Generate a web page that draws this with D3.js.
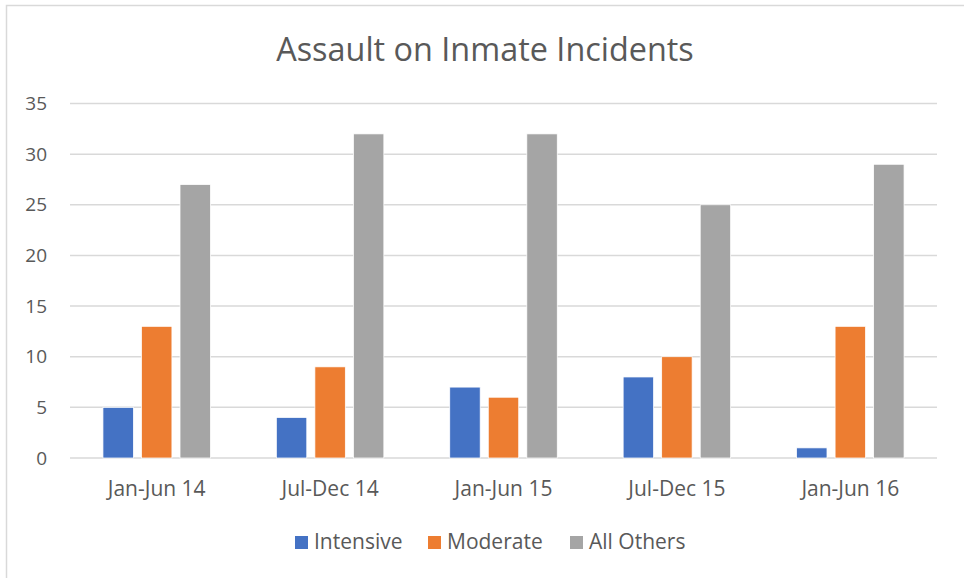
<!DOCTYPE html>
<html>
<head>
<meta charset="utf-8">
<script src="https://cdn.jsdelivr.net/npm/d3@7"></script>
<style>
	body { margin: 0; background: #fff; }
	#chart { width: 964px; height: 578px; overflow: hidden; }
	text { font-family: "Open Sans", sans-serif; fill: #595959; }
</style>
</head>
<body>
<div id="chart"></div>
<script>
// chart data
var categories = ["Jan-Jun 14", "Jul-Dec 14", "Jan-Jun 15", "Jul-Dec 15", "Jan-Jun 16"];
var seriesNames = ["Intensive", "Moderate", "All Others"];
var intensive = [5, 4, 7, 8, 1];
var moderate = [13, 9, 6, 10, 13];
var allOthers = [27, 32, 32, 25, 29];
var yTicks = [0, 5, 10, 15, 20, 25, 30, 35];
var colors = ["#4472C4", "#ED7D31", "#A5A5A5"];

var seriesValues = [intensive, moderate, allOthers];

// set the dimensions and margins of the graph
var W = 964, H = 578;
var margin = { top: 103.5, right: 27, bottom: 120, left: 70 },
	width = W - margin.left - margin.right,
	height = H - margin.top - margin.bottom;

var svg = d3.select("#chart").append("svg")
	.attr("width", W)
	.attr("height", H);

// chart border (right and bottom edges fall outside the picture)
svg.append("rect")
	.attr("x", 6.5)
	.attr("y", 5.5)
	.attr("width", W + 20)
	.attr("height", H + 20)
	.style("fill", "none")
	.style("stroke", "#d9d9d9")
	.style("stroke-width", 1.5);

// title
svg.append("text")
	.attr("x", 485)
	.attr("y", 61)
	.attr("text-anchor", "middle")
	.style("font-size", "32.4px")
	.text("Assault on Inmate Incidents");

var g = svg.append("g")
	.attr("transform", "translate(" + margin.left + "," + margin.top + ")");

// scales
var x0 = d3.scaleBand()
	.domain(categories)
	.range([0, width])
	.paddingInner(0.38)
	.paddingOuter(0.19);

var x1 = d3.scaleBand()
	.domain(seriesNames)
	.range([0, x0.bandwidth()])
	.paddingInner(0.21);

var y = d3.scaleLinear()
	.domain([0, 35])
	.range([height, 0]);

// gridlines
g.append("g")
	.selectAll("line")
	.data(yTicks)
	.enter()
	.append("line")
	.attr("x1", 0)
	.attr("x2", width)
	.attr("y1", function (d) { return y(d); })
	.attr("y2", function (d) { return y(d); })
	.style("stroke", "#d9d9d9")
	.style("stroke-width", 1.5);

// y axis labels
var yAxis = d3.axisLeft(y).tickValues(yTicks).tickSize(0).tickPadding(23);
g.append("g")
	.call(yAxis)
	.call(function (s) { s.select(".domain").remove(); })
	.selectAll("text")
	.style("font-size", "19px")
	.style("fill", "#595959")
	.style("font-family", "'Open Sans', sans-serif");

// x axis labels
var xAxis = d3.axisBottom(x0).tickSize(0).tickPadding(23);
g.append("g")
	.attr("transform", "translate(0," + height + ")")
	.call(xAxis)
	.call(function (s) { s.select(".domain").remove(); })
	.selectAll("text")
	.style("font-size", "21px")
	.style("fill", "#595959")
	.style("font-family", "'Open Sans', sans-serif");

// bars
var groups = g.append("g")
	.selectAll("g")
	.data(categories)
	.enter()
	.append("g")
	.attr("transform", function (d) { return "translate(" + x0(d) + ",0)"; });

groups.selectAll("rect")
	.data(function (d, i) {
		return seriesNames.map(function (s, j) {
			return { key: s, value: seriesValues[j][i], color: colors[j] };
		});
	})
	.enter()
	.append("rect")
	.attr("x", function (d) { return x1(d.key); })
	.attr("y", function (d) { return y(d.value); })
	.attr("width", x1.bandwidth())
	.attr("height", function (d) { return y(0) - y(d.value); })
	.style("fill", function (d) { return d.color; })
	.style("stroke", "#fff")
	.style("stroke-width", 0.75);

// legend
var legendX = [295, 428, 570];
var legend = svg.append("g")
	.selectAll("g")
	.data(seriesNames)
	.enter()
	.append("g")
	.attr("transform", function (d, i) { return "translate(" + legendX[i] + ",536)"; });

legend.append("rect")
	.attr("width", 13)
	.attr("height", 13)
	.style("fill", function (d, i) { return colors[i]; });

legend.append("text")
	.attr("x", 19)
	.attr("y", 13)
	.style("font-size", "21px")
	.text(function (d) { return d; });
</script>
</body>
</html>
